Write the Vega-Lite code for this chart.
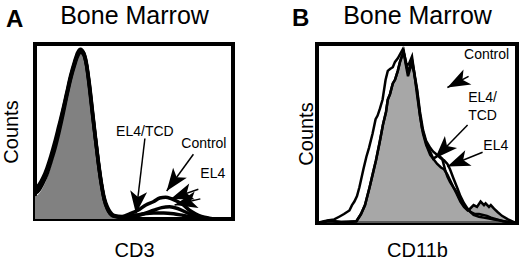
{
  "$schema": "https://vega.github.io/schema/vega-lite/v6.json",
  "padding": {"left": -1, "top": 1, "right": 0, "bottom": 0},
  "spacing": 48,
  "config": {
    "font": "Liberation Sans",
    "view": {"stroke": "black", "strokeWidth": 4},
    "axis": {"labels": false, "ticks": false, "domain": false, "grid": false, "titleFontSize": 20, "titleFontWeight": "normal", "titleFont": "Liberation Sans", "titleColor": "black"}
  },
  "datasets": {
    "curvesA": [
      {"series": "fill", "x": 0, "y": 0.13}, {"series": "fill", "x": 2, "y": 0.145}, {"series": "fill", "x": 4, "y": 0.18}, {"series": "fill", "x": 6, "y": 0.23}, {"series": "fill", "x": 8, "y": 0.3}, {"series": "fill", "x": 10, "y": 0.38}, {"series": "fill", "x": 12, "y": 0.47}, {"series": "fill", "x": 14, "y": 0.57}, {"series": "fill", "x": 16, "y": 0.68}, {"series": "fill", "x": 18, "y": 0.79}, {"series": "fill", "x": 20, "y": 0.88}, {"series": "fill", "x": 21.5, "y": 0.93}, {"series": "fill", "x": 23, "y": 0.95}, {"series": "fill", "x": 24.5, "y": 0.93}, {"series": "fill", "x": 26, "y": 0.86}, {"series": "fill", "x": 27.5, "y": 0.74}, {"series": "fill", "x": 29, "y": 0.59}, {"series": "fill", "x": 30.5, "y": 0.44}, {"series": "fill", "x": 32, "y": 0.31}, {"series": "fill", "x": 33.5, "y": 0.19}, {"series": "fill", "x": 35, "y": 0.11}, {"series": "fill", "x": 36.5, "y": 0.06}, {"series": "fill", "x": 38, "y": 0.03}, {"series": "fill", "x": 40, "y": 0.01}, {"series": "fill", "x": 43, "y": 0}, {"series": "fill", "x": 100, "y": 0},
      {"series": "tcd", "x": 0, "y": 0.175}, {"series": "tcd", "x": 2, "y": 0.195}, {"series": "tcd", "x": 4, "y": 0.235}, {"series": "tcd", "x": 6, "y": 0.29}, {"series": "tcd", "x": 8, "y": 0.36}, {"series": "tcd", "x": 10, "y": 0.44}, {"series": "tcd", "x": 12, "y": 0.53}, {"series": "tcd", "x": 14, "y": 0.62}, {"series": "tcd", "x": 16, "y": 0.72}, {"series": "tcd", "x": 18, "y": 0.82}, {"series": "tcd", "x": 20, "y": 0.9}, {"series": "tcd", "x": 21.5, "y": 0.95}, {"series": "tcd", "x": 23, "y": 0.97}, {"series": "tcd", "x": 24.5, "y": 0.95}, {"series": "tcd", "x": 26, "y": 0.88}, {"series": "tcd", "x": 27.5, "y": 0.75}, {"series": "tcd", "x": 29, "y": 0.6}, {"series": "tcd", "x": 30.5, "y": 0.46}, {"series": "tcd", "x": 32, "y": 0.32}, {"series": "tcd", "x": 33.5, "y": 0.2}, {"series": "tcd", "x": 35, "y": 0.11}, {"series": "tcd", "x": 36.5, "y": 0.06}, {"series": "tcd", "x": 38, "y": 0.03}, {"series": "tcd", "x": 40, "y": 0.015}, {"series": "tcd", "x": 45, "y": 0.01}, {"series": "tcd", "x": 50, "y": 0.02}, {"series": "tcd", "x": 55, "y": 0.03}, {"series": "tcd", "x": 60, "y": 0.035}, {"series": "tcd", "x": 65, "y": 0.035}, {"series": "tcd", "x": 70, "y": 0.03}, {"series": "tcd", "x": 75, "y": 0.02}, {"series": "tcd", "x": 80, "y": 0.01}, {"series": "tcd", "x": 85, "y": 0.005}, {"series": "tcd", "x": 90, "y": 0}, {"series": "tcd", "x": 100, "y": 0},
      {"series": "control", "x": 0, "y": 0.16}, {"series": "control", "x": 2, "y": 0.18}, {"series": "control", "x": 4, "y": 0.22}, {"series": "control", "x": 6, "y": 0.27}, {"series": "control", "x": 8, "y": 0.34}, {"series": "control", "x": 10, "y": 0.42}, {"series": "control", "x": 12, "y": 0.51}, {"series": "control", "x": 14, "y": 0.61}, {"series": "control", "x": 16, "y": 0.71}, {"series": "control", "x": 18, "y": 0.81}, {"series": "control", "x": 20, "y": 0.89}, {"series": "control", "x": 21.5, "y": 0.94}, {"series": "control", "x": 23, "y": 0.96}, {"series": "control", "x": 24.5, "y": 0.95}, {"series": "control", "x": 26, "y": 0.89}, {"series": "control", "x": 27.5, "y": 0.77}, {"series": "control", "x": 29, "y": 0.62}, {"series": "control", "x": 30.5, "y": 0.47}, {"series": "control", "x": 32, "y": 0.33}, {"series": "control", "x": 33.5, "y": 0.21}, {"series": "control", "x": 35, "y": 0.12}, {"series": "control", "x": 36.5, "y": 0.07}, {"series": "control", "x": 38, "y": 0.04}, {"series": "control", "x": 40, "y": 0.02}, {"series": "control", "x": 44, "y": 0.015}, {"series": "control", "x": 48, "y": 0.03}, {"series": "control", "x": 52, "y": 0.05}, {"series": "control", "x": 56, "y": 0.08}, {"series": "control", "x": 60, "y": 0.1}, {"series": "control", "x": 63, "y": 0.12}, {"series": "control", "x": 66, "y": 0.125}, {"series": "control", "x": 69, "y": 0.115}, {"series": "control", "x": 72, "y": 0.1}, {"series": "control", "x": 75, "y": 0.08}, {"series": "control", "x": 78, "y": 0.05}, {"series": "control", "x": 81, "y": 0.03}, {"series": "control", "x": 84, "y": 0.015}, {"series": "control", "x": 88, "y": 0.005}, {"series": "control", "x": 92, "y": 0}, {"series": "control", "x": 100, "y": 0},
      {"series": "el4", "x": 0, "y": 0.145}, {"series": "el4", "x": 2, "y": 0.165}, {"series": "el4", "x": 4, "y": 0.205}, {"series": "el4", "x": 6, "y": 0.255}, {"series": "el4", "x": 8, "y": 0.325}, {"series": "el4", "x": 10, "y": 0.4}, {"series": "el4", "x": 12, "y": 0.49}, {"series": "el4", "x": 14, "y": 0.59}, {"series": "el4", "x": 16, "y": 0.7}, {"series": "el4", "x": 18, "y": 0.8}, {"series": "el4", "x": 20, "y": 0.88}, {"series": "el4", "x": 21.5, "y": 0.93}, {"series": "el4", "x": 23, "y": 0.955}, {"series": "el4", "x": 24.5, "y": 0.94}, {"series": "el4", "x": 26, "y": 0.88}, {"series": "el4", "x": 27.5, "y": 0.76}, {"series": "el4", "x": 29, "y": 0.61}, {"series": "el4", "x": 30.5, "y": 0.46}, {"series": "el4", "x": 32, "y": 0.32}, {"series": "el4", "x": 33.5, "y": 0.2}, {"series": "el4", "x": 35, "y": 0.11}, {"series": "el4", "x": 36.5, "y": 0.06}, {"series": "el4", "x": 38, "y": 0.03}, {"series": "el4", "x": 40, "y": 0.015}, {"series": "el4", "x": 45, "y": 0.01}, {"series": "el4", "x": 50, "y": 0.015}, {"series": "el4", "x": 55, "y": 0.03}, {"series": "el4", "x": 60, "y": 0.05}, {"series": "el4", "x": 64, "y": 0.065}, {"series": "el4", "x": 68, "y": 0.07}, {"series": "el4", "x": 72, "y": 0.06}, {"series": "el4", "x": 76, "y": 0.04}, {"series": "el4", "x": 80, "y": 0.02}, {"series": "el4", "x": 84, "y": 0.01}, {"series": "el4", "x": 88, "y": 0}, {"series": "el4", "x": 100, "y": 0}
    ],
    "curvesB": [
      {"series": "fill", "x": 0, "y": 0}, {"series": "fill", "x": 3, "y": 0.005}, {"series": "fill", "x": 6, "y": 0.015}, {"series": "fill", "x": 9, "y": 0.01}, {"series": "fill", "x": 12, "y": 0.005}, {"series": "fill", "x": 16, "y": 0.005}, {"series": "fill", "x": 19.7, "y": 0.01}, {"series": "fill", "x": 22, "y": 0.05}, {"series": "fill", "x": 24, "y": 0.1}, {"series": "fill", "x": 26.3, "y": 0.2}, {"series": "fill", "x": 28, "y": 0.28}, {"series": "fill", "x": 29.5, "y": 0.35}, {"series": "fill", "x": 31.3, "y": 0.45}, {"series": "fill", "x": 33, "y": 0.55}, {"series": "fill", "x": 34.5, "y": 0.62}, {"series": "fill", "x": 35.4, "y": 0.69}, {"series": "fill", "x": 36.5, "y": 0.72}, {"series": "fill", "x": 37.9, "y": 0.78}, {"series": "fill", "x": 39, "y": 0.8}, {"series": "fill", "x": 40.4, "y": 0.85}, {"series": "fill", "x": 41.5, "y": 0.9}, {"series": "fill", "x": 42.4, "y": 0.93}, {"series": "fill", "x": 43.4, "y": 0.95}, {"series": "fill", "x": 44.5, "y": 0.88}, {"series": "fill", "x": 45.5, "y": 0.82}, {"series": "fill", "x": 46.5, "y": 0.86}, {"series": "fill", "x": 47.5, "y": 0.89}, {"series": "fill", "x": 48.5, "y": 0.84}, {"series": "fill", "x": 50, "y": 0.74}, {"series": "fill", "x": 51.5, "y": 0.6}, {"series": "fill", "x": 53, "y": 0.5}, {"series": "fill", "x": 54.5, "y": 0.44}, {"series": "fill", "x": 56.6, "y": 0.38}, {"series": "fill", "x": 58, "y": 0.36}, {"series": "fill", "x": 60.1, "y": 0.33}, {"series": "fill", "x": 62, "y": 0.31}, {"series": "fill", "x": 63.5, "y": 0.3}, {"series": "fill", "x": 65.2, "y": 0.27}, {"series": "fill", "x": 66.5, "y": 0.24}, {"series": "fill", "x": 68.2, "y": 0.2}, {"series": "fill", "x": 70, "y": 0.16}, {"series": "fill", "x": 71.7, "y": 0.12}, {"series": "fill", "x": 73.5, "y": 0.09}, {"series": "fill", "x": 75.3, "y": 0.07}, {"series": "fill", "x": 76.5, "y": 0.08}, {"series": "fill", "x": 78.3, "y": 0.1}, {"series": "fill", "x": 80, "y": 0.09}, {"series": "fill", "x": 81.8, "y": 0.12}, {"series": "fill", "x": 83.5, "y": 0.1}, {"series": "fill", "x": 84.3, "y": 0.11}, {"series": "fill", "x": 86, "y": 0.09}, {"series": "fill", "x": 86.9, "y": 0.1}, {"series": "fill", "x": 88.5, "y": 0.08}, {"series": "fill", "x": 90.4, "y": 0.06}, {"series": "fill", "x": 92.5, "y": 0.04}, {"series": "fill", "x": 95.5, "y": 0.02}, {"series": "fill", "x": 98.5, "y": 0.005}, {"series": "fill", "x": 100, "y": 0},
      {"series": "outer", "x": 0, "y": 0}, {"series": "outer", "x": 3.5, "y": 0.01}, {"series": "outer", "x": 6, "y": 0.015}, {"series": "outer", "x": 8.6, "y": 0.02}, {"series": "outer", "x": 11.1, "y": 0.035}, {"series": "outer", "x": 13.5, "y": 0.05}, {"series": "outer", "x": 16.2, "y": 0.07}, {"series": "outer", "x": 17.5, "y": 0.1}, {"series": "outer", "x": 18.7, "y": 0.12}, {"series": "outer", "x": 20, "y": 0.15}, {"series": "outer", "x": 21.2, "y": 0.2}, {"series": "outer", "x": 22.2, "y": 0.25}, {"series": "outer", "x": 23.2, "y": 0.3}, {"series": "outer", "x": 24.7, "y": 0.37}, {"series": "outer", "x": 26, "y": 0.42}, {"series": "outer", "x": 27.8, "y": 0.5}, {"series": "outer", "x": 29.3, "y": 0.58}, {"series": "outer", "x": 30.3, "y": 0.6}, {"series": "outer", "x": 31.5, "y": 0.64}, {"series": "outer", "x": 32.8, "y": 0.69}, {"series": "outer", "x": 34.3, "y": 0.8}, {"series": "outer", "x": 35.4, "y": 0.85}, {"series": "outer", "x": 36.5, "y": 0.86}, {"series": "outer", "x": 37.9, "y": 0.87}, {"series": "outer", "x": 39, "y": 0.9}, {"series": "outer", "x": 40.4, "y": 0.92}, {"series": "outer", "x": 41.9, "y": 0.95}, {"series": "outer", "x": 42.9, "y": 0.97}, {"series": "outer", "x": 43.9, "y": 0.93}, {"series": "outer", "x": 44.9, "y": 0.88}, {"series": "outer", "x": 46, "y": 0.89}, {"series": "outer", "x": 47.5, "y": 0.93}, {"series": "outer", "x": 48.5, "y": 0.85}, {"series": "outer", "x": 50, "y": 0.72}, {"series": "outer", "x": 51.5, "y": 0.6}, {"series": "outer", "x": 52.5, "y": 0.53}, {"series": "outer", "x": 54, "y": 0.47}, {"series": "outer", "x": 55, "y": 0.43}, {"series": "outer", "x": 56.5, "y": 0.4}, {"series": "outer", "x": 58.1, "y": 0.36}, {"series": "outer", "x": 59.5, "y": 0.37}, {"series": "outer", "x": 60.6, "y": 0.38}, {"series": "outer", "x": 62.6, "y": 0.36}, {"series": "outer", "x": 64, "y": 0.3}, {"series": "outer", "x": 65.2, "y": 0.26}, {"series": "outer", "x": 66.5, "y": 0.23}, {"series": "outer", "x": 68.2, "y": 0.2}, {"series": "outer", "x": 70, "y": 0.17}, {"series": "outer", "x": 70.7, "y": 0.15}, {"series": "outer", "x": 72, "y": 0.12}, {"series": "outer", "x": 73.2, "y": 0.1}, {"series": "outer", "x": 75.8, "y": 0.07}, {"series": "outer", "x": 78.3, "y": 0.045}, {"series": "outer", "x": 81, "y": 0.035}, {"series": "outer", "x": 83.3, "y": 0.03}, {"series": "outer", "x": 86, "y": 0.025}, {"series": "outer", "x": 88.4, "y": 0.02}, {"series": "outer", "x": 91, "y": 0.015}, {"series": "outer", "x": 93.4, "y": 0.01}, {"series": "outer", "x": 96, "y": 0.005}, {"series": "outer", "x": 98.5, "y": 0}, {"series": "outer", "x": 100, "y": 0},
      {"series": "third", "x": 0, "y": 0}, {"series": "third", "x": 6, "y": 0.01}, {"series": "third", "x": 12, "y": 0.005}, {"series": "third", "x": 19.7, "y": 0.01}, {"series": "third", "x": 22, "y": 0.05}, {"series": "third", "x": 24, "y": 0.1}, {"series": "third", "x": 26.3, "y": 0.2}, {"series": "third", "x": 28, "y": 0.28}, {"series": "third", "x": 29.5, "y": 0.35}, {"series": "third", "x": 31.3, "y": 0.45}, {"series": "third", "x": 33, "y": 0.55}, {"series": "third", "x": 34.5, "y": 0.62}, {"series": "third", "x": 35.4, "y": 0.69}, {"series": "third", "x": 36.5, "y": 0.72}, {"series": "third", "x": 37.9, "y": 0.78}, {"series": "third", "x": 39, "y": 0.8}, {"series": "third", "x": 40.4, "y": 0.85}, {"series": "third", "x": 41.5, "y": 0.9}, {"series": "third", "x": 42.4, "y": 0.93}, {"series": "third", "x": 43.4, "y": 0.96}, {"series": "third", "x": 44.5, "y": 0.89}, {"series": "third", "x": 45.5, "y": 0.84}, {"series": "third", "x": 46.5, "y": 0.88}, {"series": "third", "x": 47.5, "y": 0.91}, {"series": "third", "x": 48.5, "y": 0.85}, {"series": "third", "x": 50, "y": 0.75}, {"series": "third", "x": 51.5, "y": 0.62}, {"series": "third", "x": 53, "y": 0.52}, {"series": "third", "x": 54.5, "y": 0.46}, {"series": "third", "x": 56.6, "y": 0.42}, {"series": "third", "x": 58, "y": 0.4}, {"series": "third", "x": 60.1, "y": 0.38}, {"series": "third", "x": 62, "y": 0.36}, {"series": "third", "x": 63.5, "y": 0.35}, {"series": "third", "x": 65.2, "y": 0.33}, {"series": "third", "x": 66.5, "y": 0.3}, {"series": "third", "x": 68.2, "y": 0.25}, {"series": "third", "x": 70, "y": 0.2}, {"series": "third", "x": 71.7, "y": 0.15}, {"series": "third", "x": 73.5, "y": 0.11}, {"series": "third", "x": 75.3, "y": 0.08}, {"series": "third", "x": 77, "y": 0.06}, {"series": "third", "x": 79, "y": 0.05}, {"series": "third", "x": 81, "y": 0.05}, {"series": "third", "x": 83, "y": 0.045}, {"series": "third", "x": 85, "y": 0.04}, {"series": "third", "x": 87, "y": 0.03}, {"series": "third", "x": 90, "y": 0.02}, {"series": "third", "x": 93, "y": 0.01}, {"series": "third", "x": 96, "y": 0.005}, {"series": "third", "x": 100, "y": 0}
    ],
    "arrowsA": [
      {"name": "EL4/TCD", "x0": 55.5, "y0": 0.46, "x1": 51, "y1": 0.03},
      {"name": "Control", "x0": 80, "y0": 0.37, "x1": 66.5, "y1": 0.16},
      {"name": "EL4", "x0": 82.5, "y0": 0.17, "x1": 68.5, "y1": 0.115},
      {"name": "EL4b", "x0": 83.5, "y0": 0.115, "x1": 70.5, "y1": 0.08}
    ],
    "arrowsB": [
      {"name": "Control", "x0": 75.8, "y0": 0.819, "x1": 65.2, "y1": 0.757},
      {"name": "EL4/TCD", "x0": 75.3, "y0": 0.548, "x1": 59.1, "y1": 0.362},
      {"name": "EL4", "x0": 82.8, "y0": 0.395, "x1": 65.2, "y1": 0.316}
    ],
    "labelsA": [
      {"label": "EL4/TCD", "x": 55.5, "y": 0.5},
      {"label": "Control", "x": 85.3, "y": 0.43},
      {"label": "EL4", "x": 89.8, "y": 0.257}
    ],
    "labelsB": [
      {"label": "Control", "x": 84.8, "y": 0.94},
      {"label": "EL4/", "x": 82.8, "y": 0.7},
      {"label": "TCD", "x": 82.8, "y": 0.6},
      {"label": "EL4", "x": 89.4, "y": 0.43}
    ],
    "letterA": [{"letter": "A", "x": -14.6, "y": 1.1}],
    "letterB": [{"letter": "B", "x": -12.5, "y": 1.1}]
  },
  "hconcat": [
    {
      "width": 198,
      "height": 175,
      "resolve": {"axis": {"x": "independent"}},
      "encoding": {
        "y": {"field": "y", "type": "quantitative", "scale": {"domain": [0, 1], "nice": false}, "axis": {"title": "Counts", "titlePadding": 14}}
      },
      "layer": [
        {"data": {"name": "curvesA"}, "transform": [{"filter": "datum.series == 'fill'"}], "mark": {"type": "area", "color": "#818181", "interpolate": "monotone"},
         "encoding": {"x": {"field": "x", "type": "quantitative", "scale": {"domain": [0, 100], "nice": false, "zero": false}, "axis": {"title": "CD3", "titlePadding": 21}}}},
        {"data": {"name": "curvesA"}, "transform": [{"filter": "datum.series != 'fill'"}], "mark": {"type": "line", "color": "black", "strokeWidth": 3.5, "interpolate": "monotone"},
         "encoding": {"x": {"field": "x", "type": "quantitative", "axis": null}, "detail": {"field": "series"}}},
        {"data": {"name": "arrowsA"}, "mark": {"type": "rule", "color": "black", "strokeWidth": 1.5},
         "encoding": {"x": {"field": "x0", "type": "quantitative", "axis": null}, "y": {"field": "y0", "type": "quantitative"}, "x2": {"field": "x1"}, "y2": {"field": "y1"}}},
        {"data": {"name": "arrowsA"}, "transform": [{"calculate": "atan2((datum.x1-datum.x0)*1.98,(datum.y1-datum.y0)*175)*180/PI", "as": "ang"}], "mark": {"type": "point", "shape": "M0,0L0.6,1.6L0,1.2L-0.6,1.6Z", "filled": true, "color": "black", "opacity": 1, "size": 800, "strokeWidth": 0},
         "encoding": {"x": {"field": "x1", "type": "quantitative", "axis": null}, "y": {"field": "y1", "type": "quantitative"}, "angle": {"field": "ang", "type": "quantitative", "scale": null}}},
        {"data": {"name": "labelsA"}, "mark": {"type": "text", "fontSize": 14, "color": "black"},
         "encoding": {"x": {"field": "x", "type": "quantitative", "axis": null}, "text": {"field": "label"}}},
        {"data": {"name": "letterA"}, "mark": {"type": "text", "fontSize": 24, "fontWeight": "bold", "align": "left", "baseline": "alphabetic", "color": "black"},
         "encoding": {"x": {"field": "x", "type": "quantitative", "axis": {"orient": "top", "title": "Bone Marrow", "titleFontSize": 25, "titlePadding": 16}}, "text": {"field": "letter"}}}
      ]
    },
    {
      "width": 200,
      "height": 179,
      "resolve": {"axis": {"x": "independent"}},
      "encoding": {
        "y": {"field": "y", "type": "quantitative", "scale": {"domain": [0, 1], "nice": false}, "axis": {"title": "Counts", "titlePadding": 1}}
      },
      "layer": [
        {"data": {"name": "curvesB"}, "transform": [{"filter": "datum.series == 'fill'"}], "mark": {"type": "area", "color": "#818181", "line": {"color": "black", "strokeWidth": 2.5}},
         "encoding": {"x": {"field": "x", "type": "quantitative", "scale": {"domain": [0, 100], "nice": false, "zero": false}, "axis": {"title": "CD11b", "titlePadding": 17}}}},
        {"data": {"name": "curvesB"}, "transform": [{"filter": "datum.series != 'fill'"}], "mark": {"type": "line", "color": "black", "strokeWidth": 2.5},
         "encoding": {"x": {"field": "x", "type": "quantitative", "axis": null}, "detail": {"field": "series"}}},
        {"data": {"name": "arrowsB"}, "mark": {"type": "rule", "color": "black", "strokeWidth": 1.5},
         "encoding": {"x": {"field": "x0", "type": "quantitative", "axis": null}, "y": {"field": "y0", "type": "quantitative"}, "x2": {"field": "x1"}, "y2": {"field": "y1"}}},
        {"data": {"name": "arrowsB"}, "transform": [{"calculate": "atan2((datum.x1-datum.x0)*2,(datum.y1-datum.y0)*179)*180/PI", "as": "ang"}], "mark": {"type": "point", "shape": "M0,0L0.6,1.6L0,1.2L-0.6,1.6Z", "filled": true, "color": "black", "opacity": 1, "size": 800, "strokeWidth": 0},
         "encoding": {"x": {"field": "x1", "type": "quantitative", "axis": null}, "y": {"field": "y1", "type": "quantitative"}, "angle": {"field": "ang", "type": "quantitative", "scale": null}}},
        {"data": {"name": "labelsB"}, "mark": {"type": "text", "fontSize": 14, "color": "black"},
         "encoding": {"x": {"field": "x", "type": "quantitative", "axis": null}, "text": {"field": "label"}}},
        {"data": {"name": "letterB"}, "mark": {"type": "text", "fontSize": 24, "fontWeight": "bold", "align": "left", "baseline": "alphabetic", "color": "black"},
         "encoding": {"x": {"field": "x", "type": "quantitative", "axis": {"orient": "top", "title": "Bone Marrow", "titleFontSize": 25, "titlePadding": 16}}, "text": {"field": "letter"}}}
      ]
    }
  ]
}
